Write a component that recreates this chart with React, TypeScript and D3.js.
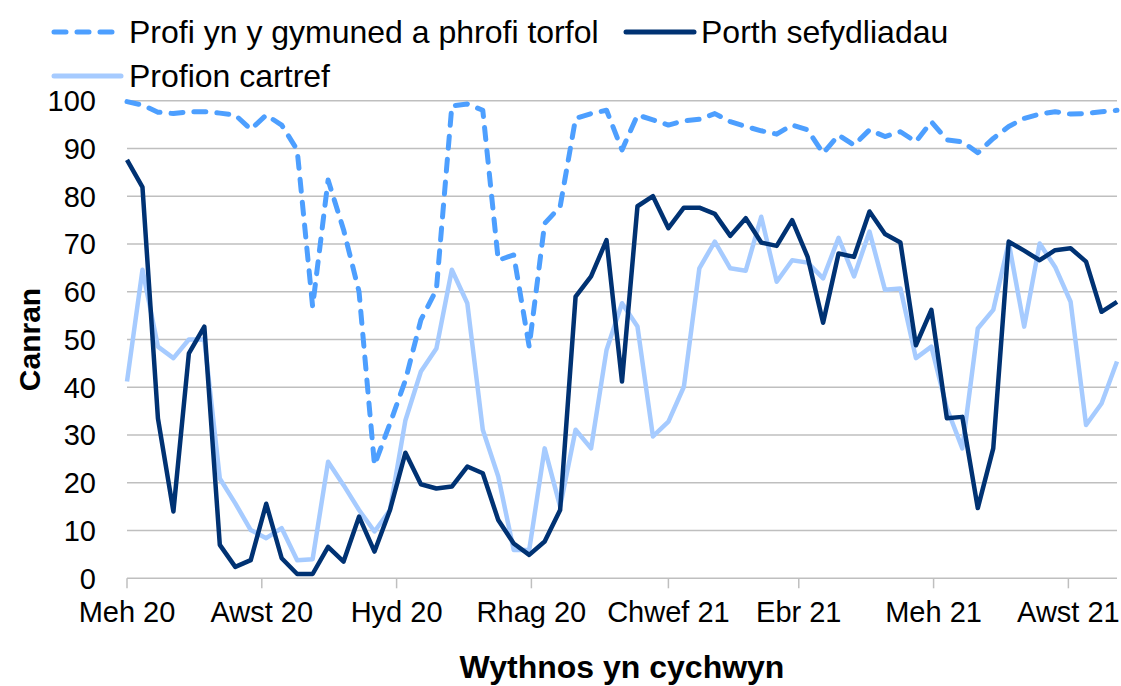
import * as d3 from "d3";

// wythnosau o 1 Mehefin 2020 ymlaen
const firstWeek = new Date(2020, 5, 1);
const weekCount = 65;
const weeks = d3.range(weekCount).map((i) => d3.timeDay.offset(firstWeek, i * 7));

const cymuned = [
  99.8, 99.1, 97.6, 97.3, 97.7, 97.7, 97.4, 97.0, 94.0, 97.0, 94.9, 89.7, 56.9,
  83.4, 73.0, 60.0, 23.7, 32.4, 41.5, 54.1, 60.4, 98.9, 99.3, 98.0, 66.6, 67.7,
  48.5, 74.3, 77.8, 96.3, 97.3, 98.0, 89.7, 97.0, 96.0, 94.9, 95.8, 96.1, 97.3,
  95.6, 94.6, 93.7, 93.0, 94.9, 93.9, 89.0, 92.8, 90.7, 93.9, 92.5, 93.5, 91.4,
  95.6, 91.8, 91.4, 89.1, 92.1, 94.6, 96.3, 97.2, 97.7, 97.2, 97.3, 97.7, 98.0,
];

const porth = [
  87.6, 81.9, 33.5, 14.0, 47.1, 52.7, 7.0, 2.4, 3.8, 15.6, 4.2, 0.9, 0.9, 6.6,
  3.5, 12.9, 5.6, 14.3, 26.3, 19.7, 18.8, 19.2, 23.4, 22.0, 12.2, 7.3, 4.9, 7.7,
  14.3, 59.0, 63.2, 70.8, 41.2, 77.9, 80.0, 73.3, 77.6, 77.6, 76.3, 71.7, 75.4,
  70.3, 69.6, 75.0, 67.3, 53.5, 68.0, 67.3, 76.8, 72.1, 70.3, 48.8, 56.2, 33.5,
  33.8, 14.7, 27.2, 70.5, 68.6, 66.6, 68.7, 69.1, 66.3, 55.8, 57.9,
];

const cartref = [
  41.2, 64.6, 48.5, 46.1, 50.0, 50.0, 20.9, 15.7, 10.1, 8.4, 10.5, 3.8, 4.0,
  24.4, 19.5, 14.3, 9.8, 14.3, 33.1, 43.3, 48.1, 64.6, 57.6, 31.1, 21.3, 5.9,
  5.9, 27.2, 15.0, 31.1, 27.2, 47.8, 57.6, 52.7, 29.7, 32.8, 40.1, 64.9, 70.5,
  64.9, 64.4, 75.7, 62.1, 66.6, 66.1, 62.8, 71.3, 63.2, 72.6, 60.4, 60.7, 46.1,
  48.5, 35.6, 27.2, 52.3, 56.2, 70.3, 52.7, 70.1, 65.2, 57.9, 32.1, 36.6, 45.4,
];

const monthNames = ["Ion", "Chwef", "Maw", "Ebr", "Mai", "Meh", "Gorff", "Awst", "Medi", "Hyd", "Tach", "Rhag"];
const yTicks = [0, 10, 20, 30, 40, 50, 60, 70, 80, 90, 100];

const W = 1121;
const H = 686;
const left = 127;
const right = 1117;
const top = 100.7;
const bottom = 578.3;
const font = "'Liberation Sans', Arial, sans-serif";

const cDash = "#4d9fff";
const cDark = "#003273";
const cLight = "#a6cbff";
const cGrid = "#bfbfbf";

export default function App() {
  const x = d3.scaleTime().domain([weeks[0], weeks[weeks.length - 1]]).range([left, right]);
  const y = d3.scaleLinear().domain([0, 100]).range([bottom, top]);
  const line = d3
    .line<number>()
    .x((_, i) => x(weeks[i]))
    .y((d) => y(d));

  // bob yn ail fis o Fehefin
  const monthTicks = d3.timeMonth.range(weeks[0], d3.timeDay.offset(weeks[weeks.length - 1], 1), 2);
  const fmt = (d: Date) => `${monthNames[d.getMonth()]} ${String(d.getFullYear()).slice(2)}`;

  return (
    <svg width={W} height={H} style={{ position: "absolute", left: 0, top: 0, background: "#fff" }} fontFamily={font}>
      {/* grid */}
      {yTicks.map((t) => (
        <g key={t}>
          <line x1={left} x2={right} y1={y(t)} y2={y(t)} stroke={cGrid} strokeWidth={1.5} />
          <text x={96} y={y(t)} dy="0.36em" textAnchor="end" fontSize={29} fill="#000">
            {t}
          </text>
        </g>
      ))}
      {monthTicks.map((d) => (
        <g key={+d}>
          <line x1={x(d)} x2={x(d)} y1={bottom} y2={bottom + 10} stroke={cGrid} strokeWidth={1.5} />
          <text x={x(d)} y={622} textAnchor="middle" fontSize={29} fill="#000">
            {fmt(d)}
          </text>
        </g>
      ))}

      <path d={line(cartref) ?? ""} fill="none" stroke={cLight} strokeWidth={4.5} strokeLinejoin="round" />
      <path d={line(porth) ?? ""} fill="none" stroke={cDark} strokeWidth={4.5} strokeLinejoin="round" />
      <path
        d={line(cymuned) ?? ""}
        fill="none"
        stroke={cDash}
        strokeWidth={5}
        strokeDasharray="12 11"
        strokeLinecap="round"
        strokeLinejoin="round"
      />

      <text
        transform={`translate(40,${(top + bottom) / 2}) rotate(-90)`}
        textAnchor="middle"
        fontSize={30}
        fontWeight="bold"
      >
        Canran
      </text>
      <text x={(left + right) / 2} y={678} textAnchor="middle" fontSize={32} fontWeight="bold">
        Wythnos yn cychwyn
      </text>

      {/* legend */}
      <line x1={54} x2={116} y1={32} y2={32} stroke={cDash} strokeWidth={5} strokeDasharray="12 11" strokeLinecap="round" />
      <text x={129} y={43} fontSize={32}>
        Profi yn y gymuned a phrofi torfol
      </text>
      <line x1={626} x2={694} y1={32} y2={32} stroke={cDark} strokeWidth={5} strokeLinecap="round" />
      <text x={701} y={43} fontSize={32}>
        Porth sefydliadau
      </text>
      <line x1={54} x2={121} y1={76} y2={76} stroke={cLight} strokeWidth={5} strokeLinecap="round" />
      <text x={129} y={87} fontSize={32}>
        Profion cartref
      </text>
    </svg>
  );
}
